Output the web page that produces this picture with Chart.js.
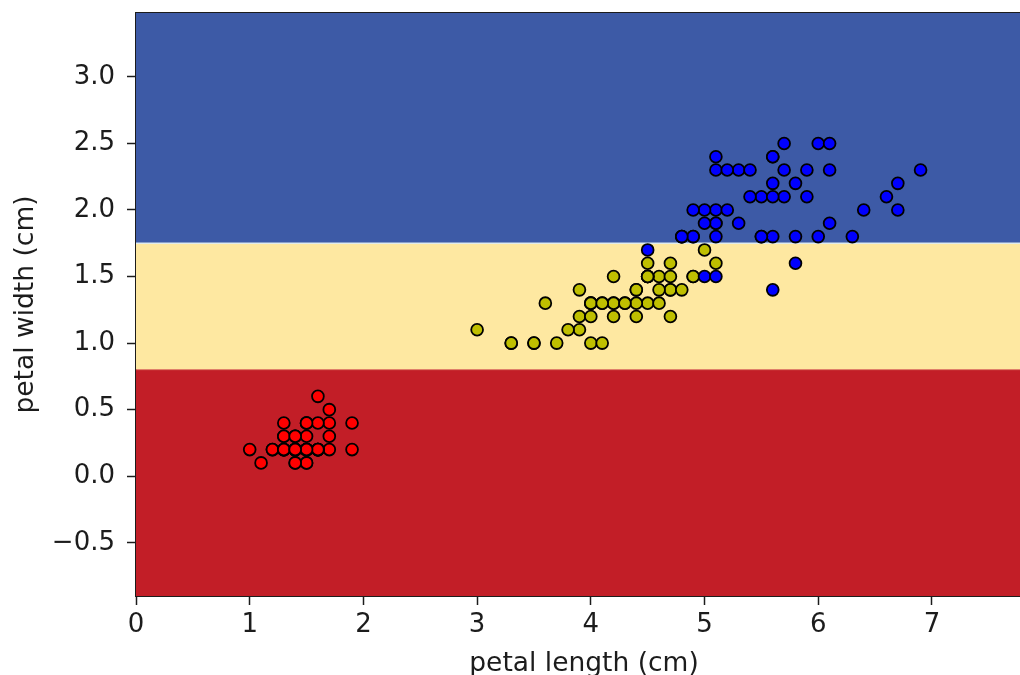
<!DOCTYPE html>
<html>
<head>
<meta charset="utf-8">
<script src="https://cdn.jsdelivr.net/npm/chart.js@4/dist/chart.umd.min.js"></script>
<style>
  html, body { margin: 0; padding: 0; background: #ffffff; overflow: hidden; width: 1020px; height: 675px; }
  canvas { display: block; }
</style>
</head>
<body>
<canvas id="chart" width="1034" height="675"></canvas>
<script>
// Iris petal measurements, one pair of arrays per species
const setosaLength = [1.4,1.4,1.3,1.5,1.4,1.7,1.4,1.5,1.4,1.5,1.5,1.6,1.4,1.1,1.2,1.5,1.3,1.4,1.7,1.5,1.7,1.5,1.0,1.7,1.9,1.6,1.6,1.5,1.4,1.6,1.6,1.5,1.5,1.4,1.5,1.2,1.3,1.4,1.3,1.5,1.3,1.3,1.3,1.6,1.9,1.4,1.6,1.4,1.5,1.4];
const setosaWidth  = [0.2,0.2,0.2,0.2,0.2,0.4,0.3,0.2,0.2,0.1,0.2,0.2,0.1,0.1,0.2,0.4,0.4,0.3,0.3,0.3,0.2,0.4,0.2,0.5,0.2,0.2,0.4,0.2,0.2,0.2,0.2,0.4,0.1,0.2,0.2,0.2,0.2,0.1,0.2,0.2,0.3,0.3,0.2,0.6,0.4,0.3,0.2,0.2,0.2,0.2];

const versicolorLength = [4.7,4.5,4.9,4.0,4.6,4.5,4.7,3.3,4.6,3.9,3.5,4.2,4.0,4.7,3.6,4.4,4.5,4.1,4.5,3.9,4.8,4.0,4.9,4.7,4.3,4.4,4.8,5.0,4.5,3.5,3.8,3.7,3.9,5.1,4.5,4.5,4.7,4.4,4.1,4.0,4.4,4.6,4.0,3.3,4.2,4.2,4.2,4.3,3.0,4.1];
const versicolorWidth  = [1.4,1.5,1.5,1.3,1.5,1.3,1.6,1.0,1.3,1.4,1.0,1.5,1.0,1.4,1.3,1.4,1.5,1.0,1.5,1.1,1.8,1.3,1.5,1.2,1.3,1.4,1.4,1.7,1.5,1.0,1.1,1.0,1.2,1.6,1.5,1.6,1.5,1.3,1.3,1.3,1.2,1.4,1.2,1.0,1.3,1.2,1.3,1.3,1.1,1.3];

const virginicaLength = [6.0,5.1,5.9,5.6,5.8,6.6,4.5,6.3,5.8,6.1,5.1,5.3,5.5,5.0,5.1,5.3,5.5,6.7,6.9,5.0,5.7,4.9,6.7,4.9,5.7,6.0,4.8,4.9,5.6,5.8,6.1,6.4,5.6,5.1,5.6,6.1,5.6,5.5,4.8,5.4,5.6,5.1,5.1,5.9,5.7,5.2,5.0,5.2,5.4,5.1];
const virginicaWidth  = [2.5,1.9,2.1,1.8,2.2,2.1,1.7,1.8,1.8,2.5,2.0,1.9,2.1,2.0,2.4,2.3,1.8,2.2,2.3,1.5,2.3,2.0,2.0,1.8,2.1,1.8,1.8,1.8,2.1,1.6,1.9,2.0,2.2,1.5,1.4,2.3,2.4,1.8,1.8,2.1,2.4,2.3,1.9,2.3,2.5,2.3,1.9,2.0,2.3,1.8];

// Decision-tree splits on petal width and the predicted class regions
const widthSplits = [0.8, 1.75];
const regionColors = ['#C21E27', '#FEE8A1', '#3D5AA6'];

// Mesh extent (petal length 0 .. 7.88, petal width -0.9 .. 3.48)
const meshX = [0, 7.88];
const meshY = [-0.9, 3.48];

// Tick positions
const xTicks = [0, 1, 2, 3, 4, 5, 6, 7];
const yTicks = [-0.5, 0.0, 0.5, 1.0, 1.5, 2.0, 2.5, 3.0];

const zip = (xs, ys) => xs.map((x, i) => ({ x: x, y: ys[i] }));
const edgeLine = (v) => meshX.map(x => ({ x: x, y: v }));

const FONT = 'DejaVu Sans';
const INK = '#1c1c1c';

const pointStyle = (fill, order) => ({
  pointRadius: 5.9,
  pointBorderWidth: 1.8,
  pointBackgroundColor: fill,
  pointBorderColor: '#000000',
  order: order
});

const datasets = [
  Object.assign({ label: 'setosa', data: zip(setosaLength, setosaWidth) }, pointStyle('#FF0000', 3)),
  Object.assign({ label: 'versicolor', data: zip(versicolorLength, versicolorWidth) }, pointStyle('#BFBF00', 2)),
  Object.assign({ label: 'virginica', data: zip(virginicaLength, virginicaWidth) }, pointStyle('#0000FF', 1)),
  {
    // region above the upper split
    type: 'line', label: 'region 2', data: edgeLine(widthSplits[1]),
    fill: 'end', backgroundColor: regionColors[2],
    borderColor: 'rgba(225,238,240,0.95)', borderWidth: 1.5,
    pointRadius: 0, order: 10
  },
  {
    // region between the two splits
    type: 'line', label: 'region 1', data: edgeLine(widthSplits[1]),
    fill: { value: widthSplits[0] }, backgroundColor: regionColors[1],
    borderWidth: 0, pointRadius: 0, order: 11
  },
  {
    // region below the lower split
    type: 'line', label: 'region 0', data: edgeLine(widthSplits[0]),
    fill: 'start', backgroundColor: regionColors[0],
    borderColor: 'rgba(214,90,80,0.9)', borderWidth: 1,
    pointRadius: 0, order: 12
  }
];

const tickFont = { family: FONT, size: 26 };
const titleFont = { family: FONT, size: 26.5 };
const tickGrid = {
  display: true, drawOnChartArea: false, drawTicks: true,
  tickLength: 9, tickWidth: 1.5, tickColor: INK, color: INK
};
const spine = { display: true, color: INK, width: 2 };

// keep the plot frame fixed: no extra room reserved for edge labels
const noEdgePadding = (s) => {
  s.paddingTop = 0; s.paddingBottom = 0; s.paddingLeft = 0; s.paddingRight = 0;
};

new Chart(document.getElementById('chart'), {
  type: 'scatter',
  data: { datasets: datasets },
  options: {
    responsive: false,
    animation: false,
    devicePixelRatio: 1,
    events: [],
    layout: { autoPadding: false, padding: { top: 13, right: 2, bottom: 0, left: 0 } },
    plugins: {
      legend: { display: false },
      tooltip: { enabled: false },
      filler: { drawTime: 'beforeDatasetsDraw' }
    },
    scales: {
      x: {
        type: 'linear', position: 'bottom',
        min: meshX[0], max: meshX[1],
        afterBuildTicks: (s) => { s.ticks = xTicks.map(v => ({ value: v })); },
        afterFit: (s) => { s.height = 79; noEdgePadding(s); },
        ticks: {
          font: tickFont, color: INK, padding: 5, maxRotation: 0,
          callback: (v) => String(v)
        },
        grid: tickGrid,
        border: spine,
        title: {
          display: true, text: 'petal length (cm)', color: INK,
          font: titleFont, padding: { top: 0, bottom: -4.6 }
        }
      },
      xTop: {
        type: 'linear', axis: 'x', position: 'top',
        min: meshX[0], max: meshX[1],
        afterFit: (s) => { s.height = 0; noEdgePadding(s); },
        ticks: { display: false },
        grid: { display: false, drawTicks: false },
        border: spine
      },
      y: {
        type: 'linear', position: 'left',
        min: meshY[0], max: meshY[1],
        afterBuildTicks: (s) => { s.ticks = yTicks.map(v => ({ value: v })); },
        afterFit: (s) => { s.width = 136; noEdgePadding(s); },
        ticks: {
          font: tickFont, color: INK, padding: 12,
          callback: (v) => v.toFixed(1).replace('-', '\u2212')
        },
        grid: tickGrid,
        border: spine,
        title: {
          display: true, text: 'petal width (cm)', color: INK,
          font: titleFont, padding: { top: 10, bottom: 0 }
        }
      }
    }
  }
});
</script>
</body>
</html>
